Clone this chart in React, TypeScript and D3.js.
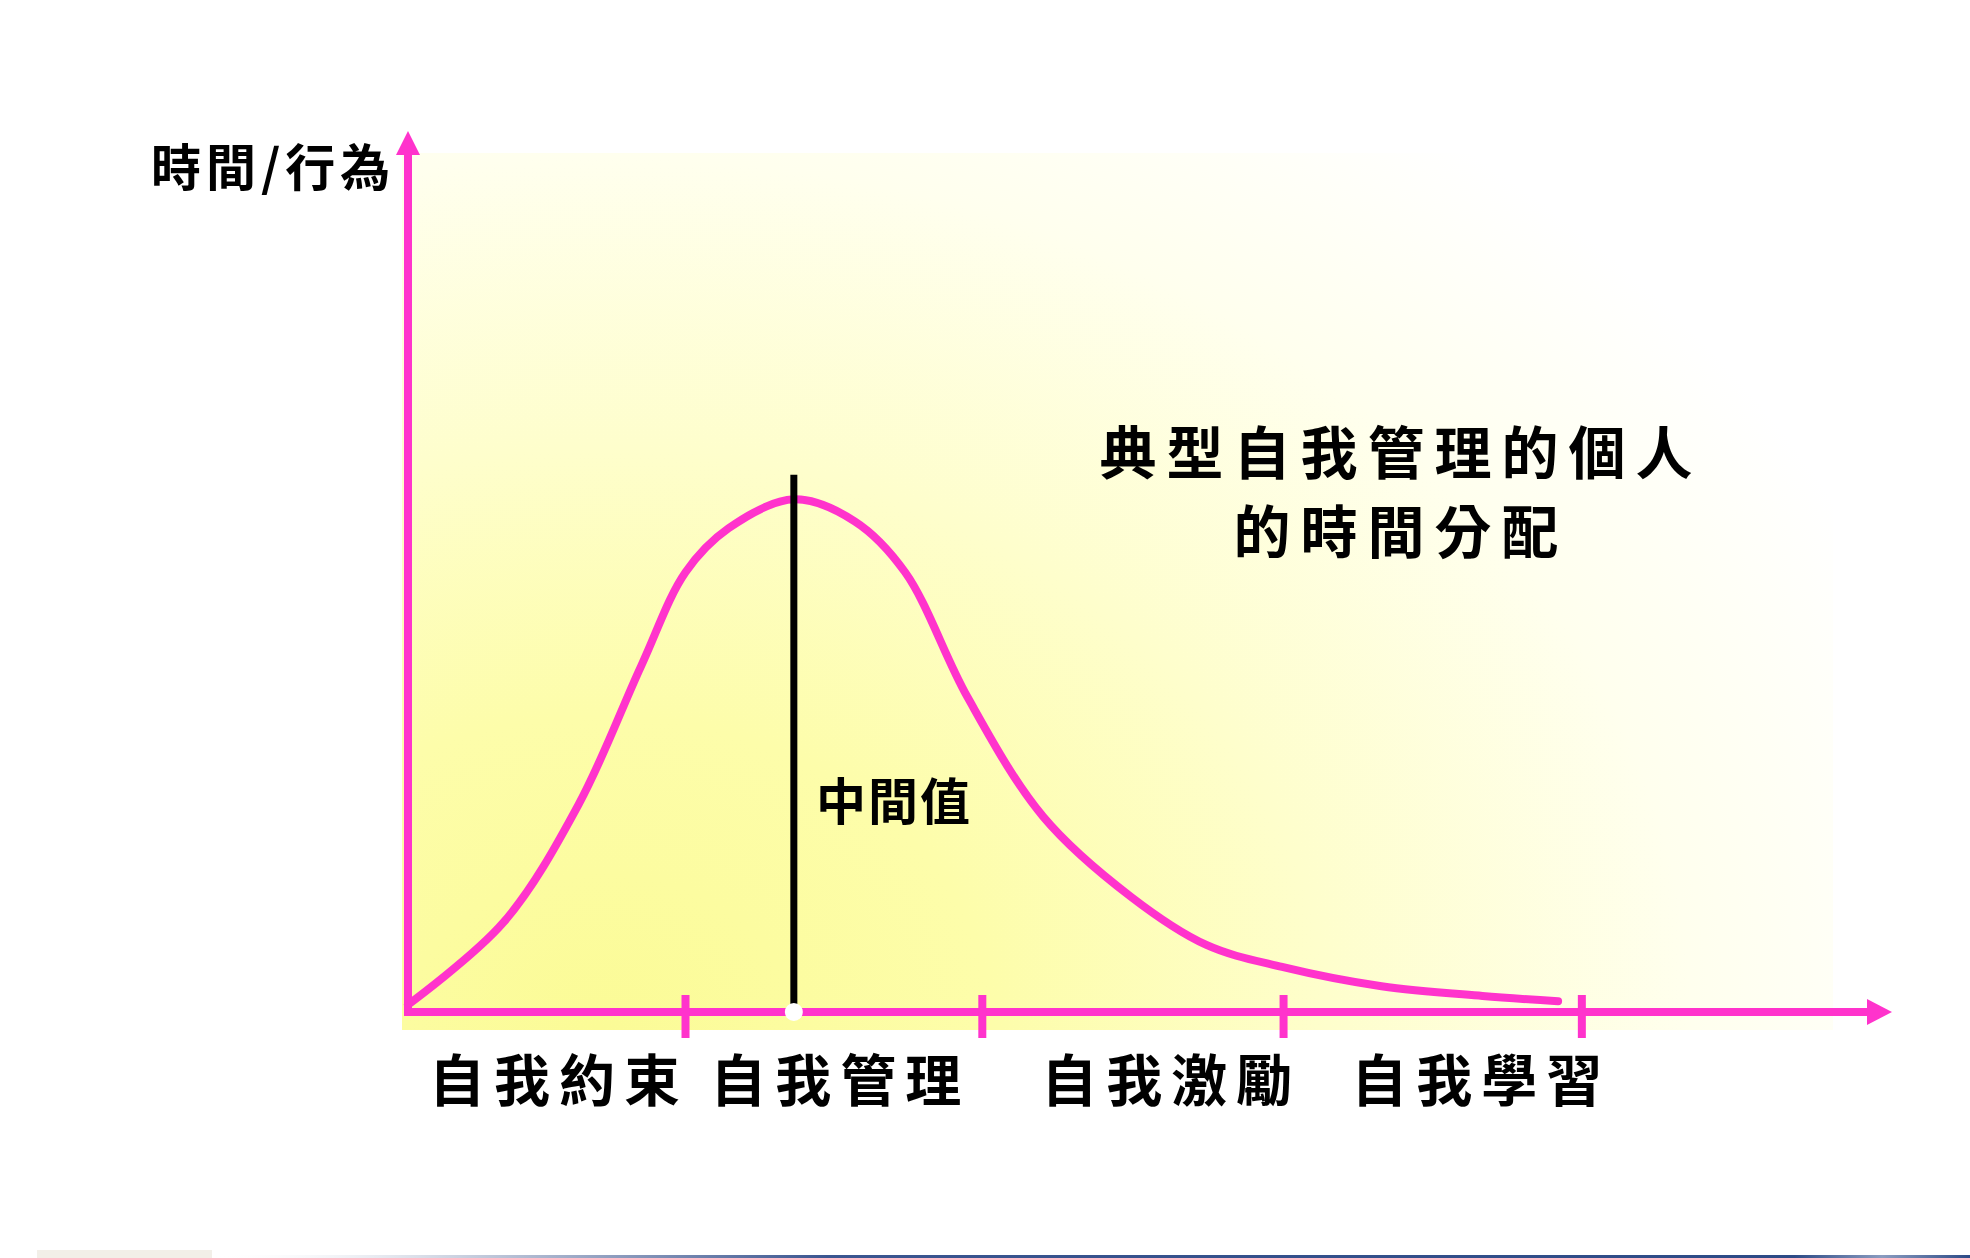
import React from 'react';
import * as d3 from 'd3';

const W = 1970;
const H = 1258;

// Curve data (x and y in 0-100 chart units)
const curveX = [0, 6.4, 11.5, 15.7, 18.7, 21.6, 26.0, 30.1, 33.5, 37.7, 42.8, 48.7, 53.8, 58.9, 65.6, 72.4, 77.5];
const curveY = [0.6, 9.9, 23.4, 39.1, 49.8, 54.8, 58.1, 55.6, 49.8, 35.6, 22.0, 12.9, 7.4, 4.9, 2.7, 1.6, 1.0];
const tickValues = [18.7, 38.7, 59.0, 79.1];
const categories = ['自我約束', '自我管理', '自我激勵', '自我學習'];
const categoryStart = [1.55, 20.5, 42.8, 63.7];
const medianValue = 26.0;
const medianTop = 60.9;
const yAxisLabel = '時間/行為';
const medianLabel = '中間值';
const titleLines = ['典型自我管理的個人', '的時間分配'];

const PINK = '#FF33CC';
const FONT = '"Noto Sans CJK TC", "Noto Sans CJK SC", sans-serif';

export default function App() {
  const x = d3.scaleLinear().domain([0, 100]).range([408, 1892]);
  const y = d3.scaleLinear().domain([0, 100]).range([1010, 131]);
  const axisY = 1012;
  const axisX = x(0);

  const pts: [number, number][] = curveX.map((v, i) => [x(v), y(curveY[i])]);
  const line = d3.line().curve(d3.curveCatmullRom.alpha(0.5))(pts) || '';

  const xEnd = x(100);
  const yEnd = y(100);

  return (
    <svg width={W} height={H} style={{ position: 'absolute', left: 0, top: 0, background: '#fff' }}>
      <defs>
        <radialGradient id="bg" gradientUnits="userSpaceOnUse" cx={600} cy={1030} r={1400}
          gradientTransform="translate(600 1030) scale(1 0.8) translate(-600 -1030)">
          <stop offset="0" stopColor="#FBFB96" />
          <stop offset="0.28" stopColor="#FDFDAA" />
          <stop offset="0.52" stopColor="#FEFECC" />
          <stop offset="0.78" stopColor="#FFFFEE" />
          <stop offset="1" stopColor="#FFFFFF" />
        </radialGradient>
        <linearGradient id="strip" x1="0" x2="1" y1="0" y2="0">
          <stop offset="0" stopColor="#ffffff" stopOpacity="0" />
          <stop offset="0.12" stopColor="#d8dde8" />
          <stop offset="0.35" stopColor="#3a5590" />
          <stop offset="0.9" stopColor="#2c4a86" />
          <stop offset="0.95" stopColor="#8a9cc0" />
          <stop offset="1" stopColor="#2c4a86" />
        </linearGradient>
      </defs>

      {/* background panel */}
      <rect x={402} y={153} width={1431} height={877} fill="url(#bg)" />

      {/* bottom decorative strip */}
      <rect x={37} y={1250} width={175} height={8} fill="#F2EFE8" />
      <rect x={212} y={1255} width={W - 212} height={3} fill="url(#strip)" />

      {/* curve */}
      <path d={line} fill="none" stroke={PINK} strokeWidth={8} strokeLinecap="round" strokeLinejoin="round" />

      {/* median line */}
      <line x1={x(medianValue)} x2={x(medianValue)} y1={y(medianTop)} y2={axisY} stroke="#000" strokeWidth={7} />

      {/* axes */}
      <line x1={axisX} x2={axisX} y1={axisY + 4} y2={yEnd + 24} stroke={PINK} strokeWidth={8} />
      <polygon points={`${axisX - 12},${yEnd + 24} ${axisX + 12},${yEnd + 24} ${axisX},${yEnd}`} fill={PINK} />
      <line x1={axisX - 4} x2={xEnd - 25} y1={axisY} y2={axisY} stroke={PINK} strokeWidth={8} />
      <polygon points={`${xEnd - 25},${axisY - 13} ${xEnd - 25},${axisY + 13} ${xEnd},${axisY}`} fill={PINK} />
      {tickValues.map((t, i) => (
        <line key={i} x1={x(t)} x2={x(t)} y1={995} y2={1038} stroke={PINK} strokeWidth={8} />
      ))}

      {/* median dot */}
      <circle cx={x(medianValue)} cy={axisY} r={9} fill="#fff" />

      {/* texts */}
      <g fontFamily={FONT} fontWeight={700} fill="#000">
        <text x={151} y={164} fontSize={50} letterSpacing={5} dominantBaseline="central">{yAxisLabel}</text>
        <text x={816} y={798} fontSize={50} letterSpacing={2} dominantBaseline="central">{medianLabel}</text>
        {titleLines.map((t, i) => (
          <text key={i} x={1401} y={449 + i * 79} fontSize={57} letterSpacing={10} textAnchor="middle" dominantBaseline="central">{t}</text>
        ))}
        {categories.map((c, i) => (
          <text key={c} x={x(categoryStart[i]) - 2} y={1076} fontSize={56} letterSpacing={9} dominantBaseline="central">{c}</text>
        ))}
      </g>
    </svg>
  );
}
